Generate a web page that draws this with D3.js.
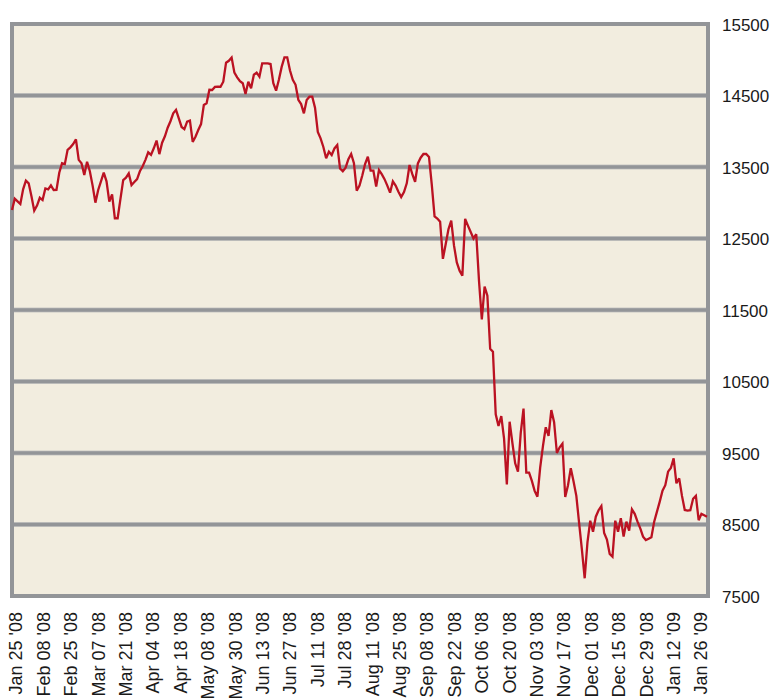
<!DOCTYPE html>
<html>
<head>
<meta charset="utf-8">
<script src="https://cdn.jsdelivr.net/npm/d3@7"></script>
<style>
  html, body { margin: 0; padding: 0; background: #ffffff; }
  svg { display: block; }
  .lbl text { font-family: "Liberation Sans", Arial, Helvetica, sans-serif; fill: #1a1a1a; }
</style>
</head>
<body>
<svg id="chart" width="772" height="698"></svg>
<script>
// ---- Data ----
const tickLabels = ["Jan 25 '08","Feb 08 '08","Feb 25 '08","Mar 07 '08","Mar 21 '08","Apr 04 '08",
  "Apr 18 '08","May 08 '08","May 30 '08","Jun 13 '08","Jun 27 '08","Jul 11 '08","Jul 28 '08",
  "Aug 11 '08","Aug 25 '08","Sep 08 '08","Sep 22 '08","Oct 06 '08","Oct 20 '08","Nov 03 '08",
  "Nov 17 '08","Dec 01 '08","Dec 15 '08","Dec 29 '08","Jan 12 '09","Jan 26 '09"];

const yTicks = [7500, 8500, 9500, 10500, 11500, 12500, 13500, 14500, 15500];

// daily closing values, one per trading day
const values = [
  12899,13057,13020,12983,13188,13309,13272,13090,12890,12960,
  13070,13038,13200,13188,13244,13178,13180,13420,13552,13540,
  13740,13775,13820,13887,13600,13552,13388,13574,13440,13240,
  13001,13178,13300,13420,13300,13015,13118,12783,12783,13050,
  13318,13350,13411,13248,13290,13330,13440,13510,13600,13705,
  13670,13762,13870,13680,13840,13930,14050,14140,14251,14300,
  14180,14060,14030,14134,14148,13850,13924,14017,14100,14367,
  14391,14580,14577,14620,14625,14623,14693,14959,14985,15030,
  14819,14754,14700,14671,14521,14693,14601,14790,14819,14763,
  14950,14950,14950,14940,14671,14567,14720,14900,15034,15034,
  14850,14720,14650,14440,14380,14251,14437,14483,14483,14330,
  13990,13900,13780,13622,13714,13668,13760,13808,13480,13440,
  13490,13610,13682,13552,13168,13240,13380,13540,13644,13448,
  13448,13225,13458,13400,13330,13240,13141,13300,13240,13155,
  13080,13150,13272,13528,13400,13294,13550,13630,13682,13682,
  13640,13255,12810,12780,12735,12215,12420,12630,12749,12400,
  12165,12050,11980,12775,12680,12590,12500,12560,11900,11370,
  11826,11700,10958,10917,10040,9878,10017,9700,9060,9938,
  9640,9356,9239,9780,10122,9226,9226,9110,8970,8889,
  9300,9600,9860,9740,10101,9930,9500,9580,9630,8885,
  9050,9287,9100,8900,8520,8150,7748,8250,8553,8399,
  8609,8700,8759,8380,8290,8088,8050,8553,8399,8587,
  8330,8539,8413,8712,8650,8540,8446,8330,8283,8300,
  8321,8540,8680,8820,8973,9050,9239,9290,9426,9076,
  9146,8900,8703,8694,8700,8860,8900,8560,8650,8630,
  8609
];

// ---- Layout ----
const plot = { left: 12, right: 708, top: 24, bottom: 596 };
const svg = d3.select("#chart");

const x = d3.scaleLinear().domain([0, values.length - 1]).range([plot.left, plot.right - 1]);
const y = d3.scaleLinear().domain([7500, 15500]).range([plot.bottom, plot.top]);
const xLab = d3.scalePoint().domain(tickLabels).range([15.5, 700.5]);

// background panel
svg.append("rect")
  .attr("x", plot.left).attr("y", plot.top)
  .attr("width", plot.right - plot.left).attr("height", plot.bottom - plot.top)
  .attr("fill", "#f2eddf");

// gridlines (soft halo + core)
const inner = yTicks.filter(t => t > 7500 && t < 15500);
svg.append("g").selectAll("line").data(inner).join("line")
  .attr("x1", plot.left).attr("x2", plot.right)
  .attr("y1", d => y(d)).attr("y2", d => y(d))
  .attr("stroke", "#c8c8c4").attr("stroke-width", 5);
svg.append("g").selectAll("line").data(inner).join("line")
  .attr("x1", plot.left).attr("x2", plot.right)
  .attr("y1", d => y(d)).attr("y2", d => y(d))
  .attr("stroke", "#939598").attr("stroke-width", 3.4);

// frame
svg.append("rect")
  .attr("x", plot.left).attr("y", plot.top)
  .attr("width", plot.right - plot.left).attr("height", plot.bottom - plot.top)
  .attr("fill", "none").attr("stroke", "#939598").attr("stroke-width", 4);

// data line
svg.append("path")
  .datum(values)
  .attr("fill", "none")
  .attr("stroke", "#bb1222")
  .attr("stroke-width", 2.3)
  .attr("stroke-linejoin", "miter")
  .attr("stroke-miterlimit", 3)
  .attr("d", d3.line().x((d, i) => x(i)).y(d => y(d)));

// right axis labels
const yAxis = svg.append("g").attr("class", "lbl")
  .attr("transform", `translate(${plot.right}, 0)`)
  .call(d3.axisRight(y).tickValues(yTicks).tickSize(0).tickPadding(14).tickFormat(d3.format("d")));
yAxis.select(".domain").remove();
yAxis.selectAll("text").attr("font-size", 17).attr("dy", "0.36em");

// bottom axis labels (rotated)
const xAxis = svg.append("g").attr("class", "lbl")
  .attr("transform", `translate(0, 612)`)
  .call(d3.axisBottom(xLab).tickSize(0).tickPadding(0));
xAxis.select(".domain").remove();
xAxis.selectAll("text")
  .attr("font-size", 18)
  .attr("text-anchor", "end")
  .attr("transform", "rotate(-90)")
  .attr("x", 0).attr("y", 0).attr("dy", "0.36em");
</script>
</body>
</html>
